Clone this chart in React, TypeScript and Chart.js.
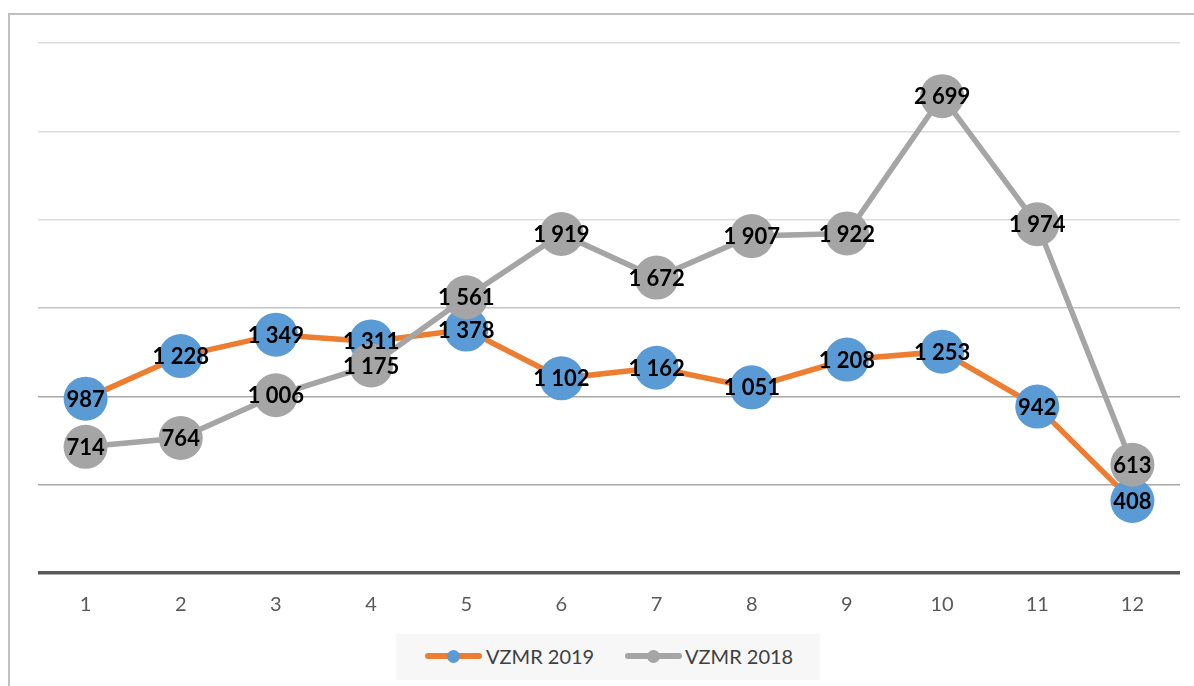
import React, { useEffect, useRef } from "react";
import { Chart, registerables } from "chart.js";

Chart.register(...registerables);

const months = ["1", "2", "3", "4", "5", "6", "7", "8", "9", "10", "11", "12"];
const vzmr2019 = [987, 1228, 1349, 1311, 1378, 1102, 1162, 1051, 1208, 1253, 942, 408];
const vzmr2018 = [714, 764, 1006, 1175, 1561, 1919, 1672, 1907, 1922, 2699, 1974, 613];
const seriesNames = ["VZMR 2019", "VZMR 2018"];

const ORANGE = "#ED7D31";
const BLUE = "#5B9BD5";
const GRAY = "#A5A5A5";

const fmt = (v: number) => String(v).replace(/\B(?=(\d{3})+(?!\d))/g, " ");

const labelPlugin = {
  id: "valueLabels",
  afterDatasetsDraw(chart: any) {
    const ctx = chart.ctx;
    ctx.save();
    ctx.font = "bold 22px Lato";
    ctx.fillStyle = "#000000";
    ctx.textAlign = "center";
    ctx.textBaseline = "middle";
    chart.data.datasets.forEach((ds: any, i: number) => {
      const meta = chart.getDatasetMeta(i);
      meta.data.forEach((pt: any, j: number) => {
        ctx.fillText(fmt(ds.data[j]), pt.x, pt.y + 1);
      });
    });
    ctx.restore();
  },
};

function gridColor(v: number) {
  if (v === 0) return "#595959";
  if (v >= 2000) return "#DCDCDC";
  if (v === 1500) return "#C4C4C4";
  return "#A8A8A8";
}

export default function App() {
  const ref = useRef<HTMLCanvasElement>(null);
  useEffect(() => {
    if (!ref.current) return;
    const chart = new Chart(ref.current, {
      type: "line",
      data: {
        labels: months,
        datasets: [
          {
            label: seriesNames[0],
            data: vzmr2019,
            borderColor: ORANGE,
            backgroundColor: BLUE,
            pointBackgroundColor: BLUE,
            pointBorderColor: BLUE,
            pointRadius: 22,
            pointBorderWidth: 0,
            borderWidth: 5.5,
            tension: 0,
            order: 1,
            clip: false as any,
          },
          {
            label: seriesNames[1],
            data: vzmr2018,
            borderColor: GRAY,
            backgroundColor: GRAY,
            pointBackgroundColor: GRAY,
            pointBorderColor: GRAY,
            pointRadius: 22,
            pointBorderWidth: 0,
            borderWidth: 5.5,
            tension: 0,
            order: 0,
            clip: false as any,
          },
        ],
      },
      options: {
        animation: false,
        responsive: false,
        maintainAspectRatio: false,
        layout: { padding: { left: 38, right: 8, top: 43, bottom: 9 } },
        plugins: { legend: { display: false }, tooltip: { enabled: false } },
        scales: {
          x: {
            offset: true,
            grid: { display: false, drawTicks: false },
            border: { display: false },
            ticks: { color: "#595959", font: { family: "Lato", size: 20 }, padding: 20 },
          },
          y: {
            min: 0,
            max: 3000,
            ticks: { display: false, stepSize: 500 },
            border: { display: false },
            grid: {
              drawTicks: false,
              color: (c: any) => gridColor(c.tick ? c.tick.value : 0),
              lineWidth: (c: any) => (c.tick && c.tick.value === 0 ? 3.5 : 1.5),
            },
          },
        },
      },
      plugins: [labelPlugin],
    });
    return () => chart.destroy();
  }, []);

  const legendText: React.CSSProperties = {
    position: "absolute",
    top: 644,
    fontFamily: "Lato",
    fontSize: 20,
    color: "#404040",
    whiteSpace: "nowrap",
  };

  return (
    <div style={{ position: "absolute", left: 0, top: 0, width: 1194, height: 686, overflow: "hidden", background: "#fff" }}>
      <div style={{ position: "absolute", left: 8, top: 13, width: 1200, height: 700, borderLeft: "2px solid #BFBFBF", borderTop: "2px solid #BFBFBF" }} />
      <canvas ref={ref} width={1202} height={646} style={{ position: "absolute", left: 0, top: 0, width: 1202, height: 646 }} />
      <div style={{ position: "absolute", left: 396, top: 634, width: 424, height: 46, background: "#F7F7F7" }} />
      <div style={{ position: "absolute", left: 425, top: 653, width: 57, height: 6, borderRadius: 3, background: ORANGE }} />
      <div style={{ position: "absolute", left: 447, top: 650, width: 13, height: 13, borderRadius: 7, background: BLUE }} />
      <span style={{ ...legendText, left: 486 }}>{seriesNames[0]}</span>
      <div style={{ position: "absolute", left: 625, top: 653, width: 57, height: 6, borderRadius: 3, background: GRAY }} />
      <div style={{ position: "absolute", left: 647, top: 650, width: 13, height: 13, borderRadius: 7, background: GRAY }} />
      <span style={{ ...legendText, left: 685 }}>{seriesNames[1]}</span>
    </div>
  );
}
